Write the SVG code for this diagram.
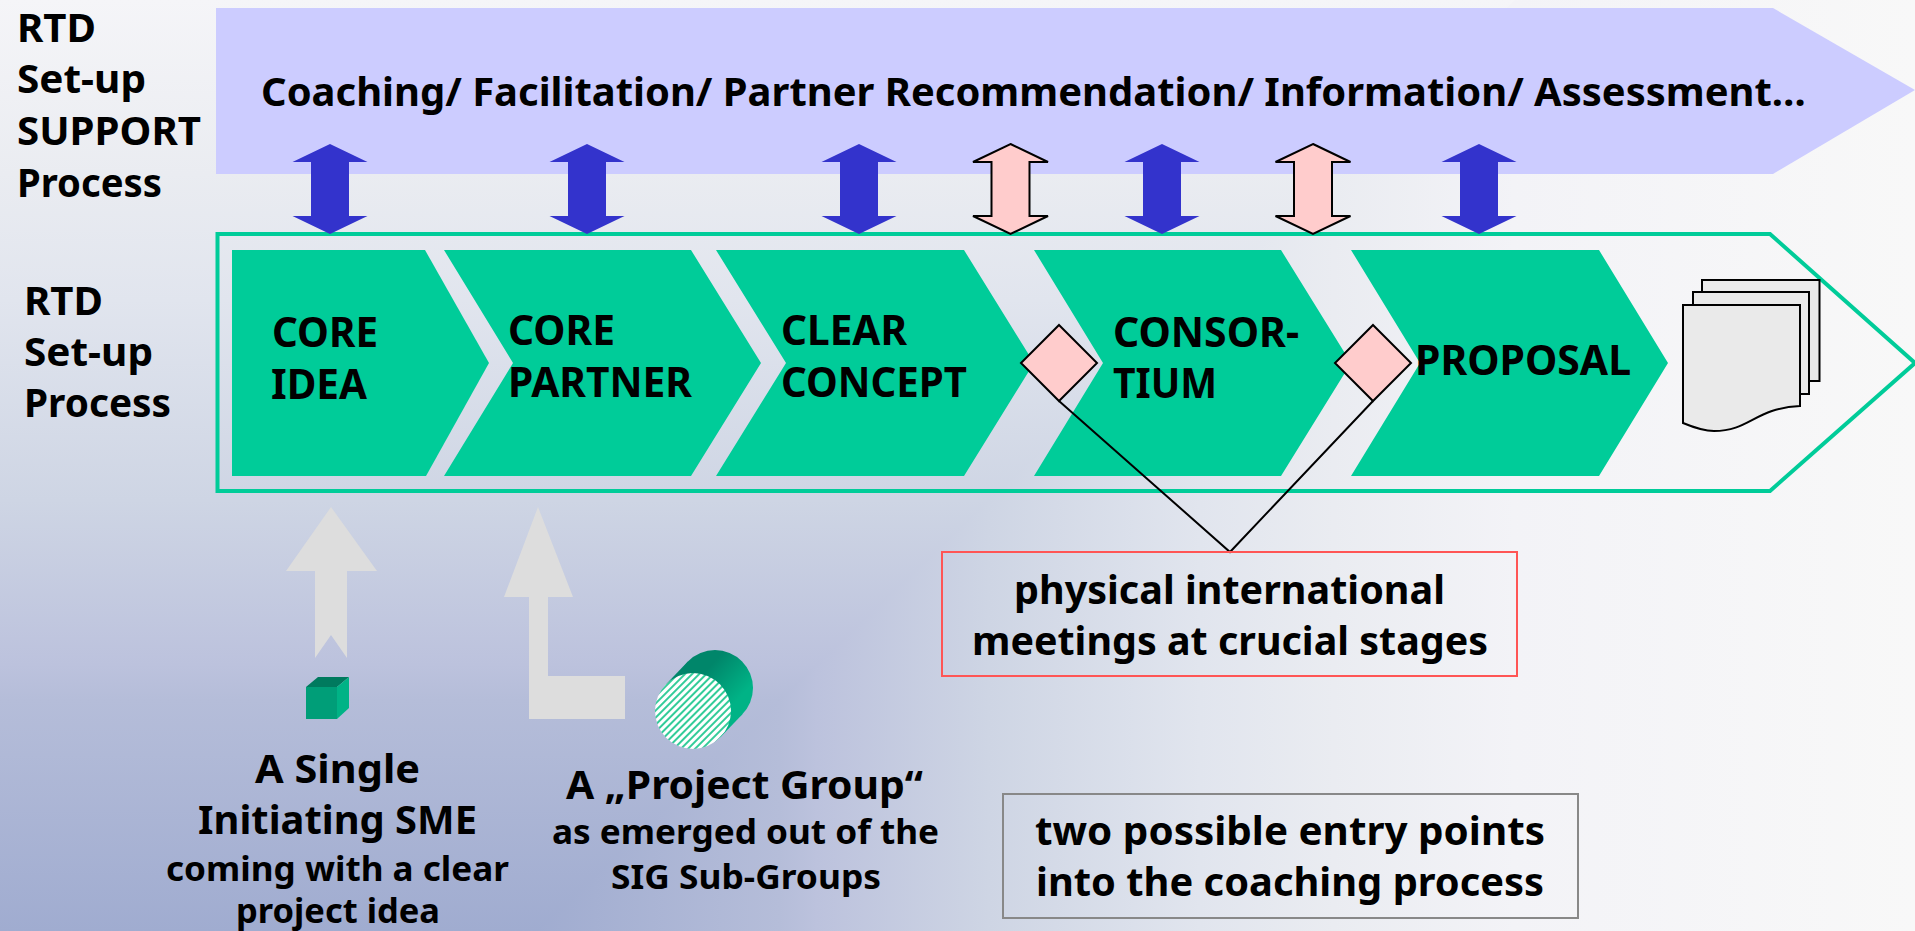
<svg xmlns="http://www.w3.org/2000/svg" width="1915" height="931" viewBox="0 0 1915 931">
<style>
text{font-family:"Noto Sans","Open Sans","DejaVu Sans",sans-serif;font-weight:700;fill:#000;font-size:40px}
.s{font-size:34px}
.c{font-size:41px}
.blue{fill:#3333cc}
.pink{fill:#ffcccc;stroke:#000;stroke-width:2;stroke-linejoin:miter}
.chev{fill:#00cc99}
.grey{fill:#dddddd}
.doc{fill:#eaeaea;stroke:#000;stroke-width:2}
.diam{fill:#ffcccc;stroke:#000;stroke-width:2}
</style>
<defs>
<linearGradient id="gv" x1="0" y1="931" x2="0" y2="0" gradientUnits="userSpaceOnUse"><stop offset="0" stop-color="#a0acd0"/><stop offset=".248" stop-color="#b5bdd9"/><stop offset=".286" stop-color="#bcc2dd"/><stop offset=".463" stop-color="#ced5e4"/><stop offset=".678" stop-color="#e1e5ee"/><stop offset=".814" stop-color="#eaecf1"/><stop offset="1" stop-color="#f5f5f8"/></linearGradient>
<linearGradient id="gh" x1="537" y1="0" x2="1915" y2="0" gradientUnits="userSpaceOnUse"><stop offset="0" stop-color="#a0acd0"/><stop offset=".176" stop-color="#b5bdd9"/><stop offset=".203" stop-color="#bcc2dd"/><stop offset=".328" stop-color="#ced5e4"/><stop offset=".481" stop-color="#e1e5ee"/><stop offset=".578" stop-color="#eaecf1"/><stop offset=".709" stop-color="#f3f3f7"/><stop offset="1" stop-color="#f8f8f8"/></linearGradient>
<linearGradient id="cyl" gradientUnits="userSpaceOnUse" x1="700" y1="650" x2="745" y2="692"><stop offset="0" stop-color="#00866a"/><stop offset=".3" stop-color="#00866a"/><stop offset="1" stop-color="#00b386"/></linearGradient>
<pattern id="hatch" width="5" height="5" patternUnits="userSpaceOnUse" patternTransform="rotate(-45)"><rect width="5" height="5" fill="#ffffff"/><rect width="5" height="2" fill="#33cc99"/></pattern>
</defs>
<g id="background">
<rect width="1915" height="931" fill="url(#gv)"/>
<polygon points="1515,0 1915,0 1915,931 537,931" fill="url(#gh)"/>
</g>
<g id="support-band"><polygon points="216,8 1773,8 1915,90 1773,174 216,174" fill="#ccccff"/>
<text x="261" y="106" textLength="1545" lengthAdjust="spacingAndGlyphs">Coaching/ Facilitation/ Partner Recommendation/ Information/ Assessment…</text></g>
<g id="label-support">
<text x="17" y="42" textLength="79" lengthAdjust="spacingAndGlyphs">RTD</text>
<text x="17" y="93" textLength="129" lengthAdjust="spacingAndGlyphs">Set-up</text>
<text x="17" y="145" textLength="184" lengthAdjust="spacingAndGlyphs">SUPPORT</text>
<text x="17" y="197" textLength="145" lengthAdjust="spacingAndGlyphs">Process</text>
</g>
<g id="label-process">
<text x="24" y="315" textLength="79" lengthAdjust="spacingAndGlyphs">RTD</text>
<text x="24" y="366" textLength="129" lengthAdjust="spacingAndGlyphs">Set-up</text>
<text x="24" y="417" textLength="147" lengthAdjust="spacingAndGlyphs">Process</text>
</g>
<g id="process-outline"><polygon points="217.500,234 1770,234 1915,363 1770,491 217.500,491" fill="none" stroke="#00cc99" stroke-width="4"/></g>
<g id="core-idea"><polygon class="chev" points="232,250 425,250 489,363 426,476 232,476"/>
<text class="c" x="272" y="347" textLength="106" lengthAdjust="spacingAndGlyphs">CORE</text><text class="c" x="271" y="399" textLength="96" lengthAdjust="spacingAndGlyphs">IDEA</text></g>
<g id="core-partner"><polygon class="chev" points="444,250 691,250 761,363 691,476 444,476 513,363"/>
<text class="c" x="508" y="345" textLength="107" lengthAdjust="spacingAndGlyphs">CORE</text><text class="c" x="508" y="397" textLength="184" lengthAdjust="spacingAndGlyphs">PARTNER</text></g>
<g id="clear-concept"><polygon class="chev" points="716,250 964,250 1034,363 964,476 716,476 786,363"/>
<text class="c" x="781" y="345" textLength="126" lengthAdjust="spacingAndGlyphs">CLEAR</text><text class="c" x="781" y="397" textLength="186" lengthAdjust="spacingAndGlyphs">CONCEPT</text></g>
<g id="consortium"><polygon class="chev" points="1034,250 1281,250 1351,363 1281,476 1034,476 1103,363"/>
<text class="c" x="1113" y="347" textLength="186" lengthAdjust="spacingAndGlyphs">CONSOR-</text><text class="c" x="1113" y="398" textLength="104" lengthAdjust="spacingAndGlyphs">TIUM</text></g>
<g id="proposal"><polygon class="chev" points="1351,250 1599,250 1668,363 1599,476 1351,476 1420,363"/>
<text class="c" x="1415" y="375" textLength="216" lengthAdjust="spacingAndGlyphs">PROPOSAL</text></g>
<g id="documents">
<path class="doc" d="M1702,280H1819.500V381H1702Z"/>
<path class="doc" d="M1693,292H1809V394H1693Z"/>
<path class="doc" d="M1683,305H1800V406C1755,408 1750,431 1714,431C1705,431 1695,428 1683,423Z"/>
</g>
<g id="connectors">
<polyline points="1059,401 1230,552 1373,401" fill="none" stroke="#000" stroke-width="2"/>
</g>
<g id="entry-diamonds">
<polygon class="diam" points="1059,325 1097,363 1059,401 1021,363"/>
<polygon class="diam" points="1373,325 1411,363 1373,401 1335,363"/>
</g>
<g id="support-arrows">
<polygon class="blue" points="330,144 367.500,162 349,162 349,216 367.500,216 330,234 292.500,216 311,216 311,162 292.500,162"/>
<polygon class="blue" points="587,144 624.500,162 606,162 606,216 624.500,216 587,234 549.500,216 568,216 568,162 549.500,162"/>
<polygon class="blue" points="859,144 896.500,162 878,162 878,216 896.500,216 859,234 821.500,216 840,216 840,162 821.500,162"/>
<polygon class="blue" points="1162,144 1199.500,162 1181,162 1181,216 1199.500,216 1162,234 1124.500,216 1143,216 1143,162 1124.500,162"/>
<polygon class="blue" points="1479,144 1516.500,162 1498,162 1498,216 1516.500,216 1479,234 1441.500,216 1460,216 1460,162 1441.500,162"/>
<polygon class="pink" points="1010.500,144 1048,162 1029.500,162 1029.500,216 1048,216 1010.500,234 973,216 991.500,216 991.500,162 973,162"/>
<polygon class="pink" points="1313,144 1350.500,162 1332,162 1332,216 1350.500,216 1313,234 1275.500,216 1294,216 1294,162 1275.500,162"/>
</g>
<g id="entry-arrow-sme"><polygon class="grey" points="331,507 377,571 347,571 347,658 331,635 315,658 315,571 286,571"/></g>
<g id="entry-arrow-group"><polygon class="grey" points="538,507 573,597 548,597 548,676 625,676 625,719 529,719 529,597 504,597"/></g>
<g id="cube">
<polygon fill="#009e78" points="306,687 337,687 337,719 306,719"/>
<polygon fill="#007a5e" points="306,687 318,677 349,677 337,687"/>
<polygon fill="#00b386" points="337,687 349,677 349,708 337,719"/>
</g>
<g id="cylinder">
<polygon fill="url(#cyl)" points="665.600,684.800 687.600,661.800 742.400,714.200 720.400,737.200"/>
<circle cx="715" cy="688" r="38" fill="url(#cyl)"/>
<circle cx="693" cy="711" r="38" fill="url(#hatch)"/>
</g>
<g id="label-sme">
<text x="255" y="783" textLength="165" lengthAdjust="spacingAndGlyphs">A Single</text>
<text x="198" y="834" textLength="279" lengthAdjust="spacingAndGlyphs">Initiating SME</text>
<text class="s" x="166" y="881" textLength="343" lengthAdjust="spacingAndGlyphs">coming with a clear</text>
<text class="s" x="236" y="923" textLength="204" lengthAdjust="spacingAndGlyphs">project idea</text>
</g>
<g id="label-group">
<text x="566" y="799" textLength="357" lengthAdjust="spacingAndGlyphs">A „Project Group“</text>
<text class="s" x="552" y="844" textLength="387" lengthAdjust="spacingAndGlyphs">as emerged out of the</text>
<text class="s" x="611" y="889" textLength="270" lengthAdjust="spacingAndGlyphs">SIG Sub-Groups</text>
</g>
<g id="meetings-box">
<rect x="942" y="552" width="575" height="124" fill="none" stroke="#ff5555" stroke-width="2"/>
<text x="1014" y="604" textLength="431" lengthAdjust="spacingAndGlyphs">physical international</text>
<text x="972" y="655" textLength="516" lengthAdjust="spacingAndGlyphs">meetings at crucial stages</text>
</g>
<g id="entry-box">
<rect x="1003" y="794" width="575" height="124" fill="none" stroke="#888888" stroke-width="2"/>
<text x="1035" y="845" textLength="510" lengthAdjust="spacingAndGlyphs">two possible entry points</text>
<text x="1036" y="896" textLength="508" lengthAdjust="spacingAndGlyphs">into the coaching process</text>
</g>
</svg>
